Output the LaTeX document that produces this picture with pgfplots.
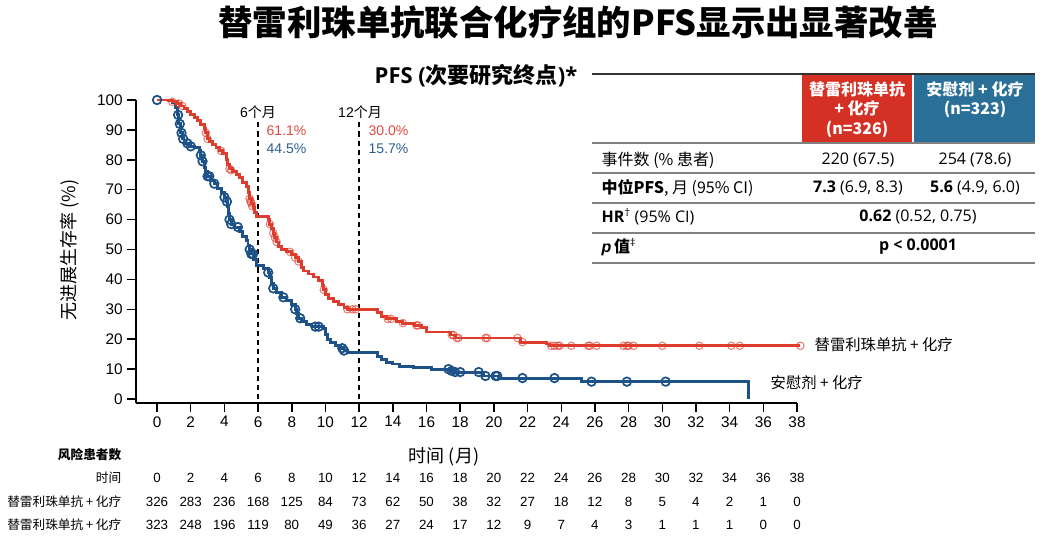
\documentclass[border=0pt]{standalone}
\usepackage{pgfplots}
\pgfplotsset{compat=1.18}
\usepackage{fontspec}
\setmainfont{Liberation Sans}
\newfontfamily\cjk{Noto Sans CJK SC}
\newfontfamily\tf{Open Sans}
\definecolor{redc}{HTML}{DE3C2D}
\definecolor{bluec}{HTML}{1C5287}
\definecolor{redbox}{HTML}{D43024}
\definecolor{bluebox}{HTML}{2A6F97}
\definecolor{redt}{HTML}{E04A3C}
\definecolor{bluet}{HTML}{2E5E91}
\begin{document}
\begin{tikzpicture}
\begin{axis}[
  at={(102pt,-302.25pt)}, anchor=south west,
  scale only axis, width=495.75pt, height=227.25pt,
  xmin=-1.25, xmax=38, ymin=-1.34, ymax=100,
  axis x line*=bottom, axis y line*=left,
  xtick={0,2,...,38}, ytick={0,10,...,100},
  tick align=outside, major tick length=6.5pt,
  tick style={line width=1.1pt, black},
  axis line style={line width=1.1pt, black},
  tick label style={font=\fontsize{11.5}{12}\selectfont},
  /pgf/number format/assume math mode=true,
  clip=false,
]
\draw[line width=1.3pt, dash pattern=on 3.8pt off 3pt] (axis cs:6,92.5) -- (axis cs:6,-1.34);
\draw[line width=1.3pt, dash pattern=on 3.8pt off 3pt] (axis cs:12,92.5) -- (axis cs:12,-1.34);
\addplot[const plot, bluec, line width=2.2pt] table {
t s
0 100
0.9 99
1.1 97.5
1.2 95
1.3 92
1.4 89
1.5 87
1.6 85.5
1.9 84.5
2.2 84
2.5 83
2.6 81.5
2.7 79.5
2.8 77.5
2.9 76
3.0 74.5
3.2 73
3.4 72
3.6 70.5
3.8 69
4.0 67.5
4.1 66
4.2 64.5
4.25 62
4.3 60
4.4 58.5
4.6 57.5
4.9 56
5.1 54.5
5.3 53
5.4 51.5
5.5 50
5.6 48.5
5.75 46.5
5.9 44.5
6.3 43.5
6.6 42.3
6.7 40.5
6.8 38.5
6.9 37
7.1 35.5
7.4 34
7.7 33
8.0 31.5
8.2 30
8.3 28.5
8.4 27
8.6 26
8.9 25
9.2 24.2
9.9 23.6
10.0 21.5
10.1 20
10.3 19
10.6 18
10.9 17
11.1 16.2
11.3 15.7
13.1 14.2
13.3 13.2
13.6 12.3
14.0 11.7
14.4 11
15.2 10.5
16.3 10
17.4 9.4
17.6 9.0
19.4 7.7
20.3 7.0
25.2 5.8
35.1 5.8
35.1 0
};
\addplot[const plot, redc, line width=2.2pt] table {
t s
0 100
0.7 99.7
0.9 99.4
1.2 98.8
1.4 98
1.6 97.3
1.8 96.3
2.0 95
2.2 94
2.4 93
2.6 91.8
2.8 90.5
2.9 89
3.0 87
3.1 86
3.3 85
3.5 84
3.7 83
3.9 82
4.1 80
4.2 78.5
4.3 77
4.5 76
4.7 75
4.9 74
5.1 72.5
5.3 71
5.45 69
5.5 67
5.6 65.5
5.7 64
5.8 62.5
5.9 61.1
6.6 60
6.7 58.5
6.8 57
6.9 55.5
7.0 54
7.1 52.5
7.2 51
7.4 50
7.7 49.2
8.0 48.3
8.2 47.3
8.4 46
8.6 44
8.7 42.8
9.0 41.8
9.3 40.8
9.6 39.5
9.8 38
9.9 36.5
10.0 35
10.2 33.5
10.5 32.5
10.8 31.5
11.1 30.5
11.3 30.0
13.1 28.8
13.3 27.5
13.6 26.8
14.2 26
14.6 25.4
15.3 24.6
15.7 24
16.0 22.4
17.4 21.4
17.7 20.4
21.6 19.0
23.1 18.4
23.3 17.8
38.2 17.8
};
\addplot[only marks, mark=o, mark size=3.2pt, bluec, mark options={line width=1.3pt}] table {
t s
0 100
1.25 95
1.35 92
1.45 89
1.55 87
1.8 85.5
2.0 84.5
2.6 81.5
2.7 79.5
3.0 74.5
3.1 74.5
3.4 72
4.0 67.5
4.15 66
4.3 60
4.4 58.5
4.8 57.5
5.5 50
5.6 48.5
5.7 48.5
6.6 42.3
6.9 37
7.5 34
8.2 30
8.5 27
9.4 24.2
9.6 24.2
11.0 17
11.1 16.2
17.3 10
17.5 9.4
17.7 9.0
18.0 9.0
19.1 9.0
19.5 7.7
20.1 7.7
20.2 7.7
21.7 7.0
23.6 7.0
25.8 5.8
27.9 5.8
30.2 5.8
};
\addplot[only marks, mark=o, mark size=2.8pt, redc, mark options={line width=0.8pt, draw opacity=0.65}] table {
t s
0.9 99.4
1.3 98.8
1.5 98
2.9 89
3.0 87
3.8 83
4.3 77
4.4 76.5
5.5 67
5.55 66
5.6 65.5
5.65 64.5
6.7 58.5
6.9 55.5
7.0 54
7.1 52.5
7.9 49.2
8.2 47.3
8.4 46
9.9 36.5
11.3 30.0
11.6 30.0
11.8 30.0
13.7 26.8
13.9 26.8
14.6 25.4
15.4 24.6
15.5 24.6
17.5 21.4
17.6 21.4
17.8 20.4
17.9 20.4
19.5 20.4
19.6 20.4
21.4 20.4
21.7 19.0
23.4 17.8
23.6 17.8
23.8 17.8
23.9 17.8
24.6 17.8
25.6 17.8
25.7 17.8
26.1 17.8
27.7 17.8
27.9 17.8
28.0 17.8
28.3 17.8
30.0 17.8
32.2 17.8
34.1 17.8
34.6 17.8
38.2 17.8
};
\end{axis}
\begin{scope}[x=0.75pt,y=-0.75pt]
\path[use as bounding box] (0,0) rectangle (1049,549);
% title
\node[font=\cjk\bfseries\fontsize{25.8}{28}\selectfont] at (578,22) {替雷利珠单抗联合化疗组的PFS显示出显著改善};
% subheading
\node[anchor=west, font=\bfseries\fontsize{16.5}{18}\selectfont] at (370,76) {{\tf PFS (}{\cjk 次要研究终点}{\tf )*}};
% table
\fill[redbox] (802,75) rectangle (912,142);
\fill[bluebox] (914,75) rectangle (1035,142);
\draw[line width=1.8pt, black!80] (592,74) -- (1035,74);
\foreach \yy in {143,173,203,233,263} \draw[line width=1.5pt, black!50] (592,\yy) -- (1035,\yy);
\node[align=center, text=white, font=\cjk\bfseries\fontsize{12}{14.6}\selectfont] at (857,109.5) {替雷利珠单抗\\+ 化疗\\(n=326)};
\node[align=center, text=white, font=\cjk\bfseries\fontsize{12}{14.6}\selectfont] at (975,100) {安慰剂 + 化疗\\(n=323)};
\node[anchor=west, font=\cjk\fontsize{12}{14}\selectfont] at (597,160) {事件数 (\% 患者)};
\node[anchor=west, font=\cjk\fontsize{12}{14}\selectfont] at (597,188) {{\bfseries 中位PFS}, 月 (95\% CI)};
\node[anchor=west, font=\tf\fontsize{12}{14}\selectfont] at (597,217) {{\bfseries HR}\textsuperscript{†} (95\% CI)};
\node[anchor=west, font=\fontsize{12}{14}\selectfont] at (597,247) {{\bfseries\itshape p}\,{\cjk\bfseries 值}\textsuperscript{\tf ‡}};
\node[font=\tf\fontsize{12}{14}\selectfont] at (858,160) {220 (67.5)};
\node[font=\tf\fontsize{12}{14}\selectfont] at (975,160) {254 (78.6)};
\node[font=\tf\fontsize{12}{14}\selectfont] at (858,188) {{\bfseries 7.3} (6.9, 8.3)};
\node[font=\tf\fontsize{12}{14}\selectfont] at (975,188) {{\bfseries 5.6} (4.9, 6.0)};
\node[font=\tf\fontsize{12}{14}\selectfont] at (918,217) {{\bfseries 0.62} (0.52, 0.75)};
\node[font=\tf\bfseries\fontsize{12}{14}\selectfont] at (918,247) {p < 0.0001};
% plot annotations
\node[font=\fontsize{10.5}{12}\selectfont] at (258,112) {6{\cjk 个月}};
\node[font=\fontsize{10.5}{12}\selectfont] at (360,112) {12{\cjk 个月}};
\node[anchor=west, text=redt, font=\fontsize{10.5}{12}\selectfont] at (262,131) {61.1\%};
\node[anchor=west, text=bluet, font=\fontsize{10.5}{12}\selectfont] at (262,149) {44.5\%};
\node[anchor=west, text=redt, font=\fontsize{10.5}{12}\selectfont] at (364,131) {30.0\%};
\node[anchor=west, text=bluet, font=\fontsize{10.5}{12}\selectfont] at (364,149) {15.7\%};
\node[anchor=west, font=\cjk\fontsize{11.5}{13}\selectfont] at (810,345) {替雷利珠单抗 + 化疗};
\node[anchor=west, font=\cjk\fontsize{11.5}{13}\selectfont] at (766,383) {安慰剂 + 化疗};
% axis labels
\node[rotate=90, font=\cjk\fontsize{13.5}{15}\selectfont] at (70,250) {无进展生存率 (\%)};
\node[font=\cjk\fontsize{13.5}{15}\selectfont] at (444,457) {时间 (月)};
% risk table
\node[anchor=east, font=\cjk\bfseries\fontsize{9.5}{11}\selectfont] at (126,455) {风险患者数};
\node[anchor=east, font=\cjk\fontsize{9.5}{12}\selectfont] at (126,478) {时间};
\node[anchor=east, font=\cjk\fontsize{9.5}{12}\selectfont] at (126,502) {替雷利珠单抗 + 化疗};
\node[anchor=east, font=\cjk\fontsize{9.5}{12}\selectfont] at (126,525) {替雷利珠单抗 + 化疗};
\foreach \t/\a/\b in {0/326/323,2/283/248,4/236/196,6/168/119,8/125/80,10/84/49,12/73/36,14/62/27,16/50/24,18/38/17,20/32/12,22/27/9,24/18/7,26/12/4,28/8/3,30/5/1,32/4/1,34/2/1,36/1/0,38/0/0} {
  \node[font=\fontsize{10}{12}\selectfont] at ({157+16.842*\t},478) {\t};
  \node[font=\fontsize{10}{12}\selectfont] at ({157+16.842*\t},502) {\a};
  \node[font=\fontsize{10}{12}\selectfont] at ({157+16.842*\t},525) {\b};
}
\end{scope}
\end{tikzpicture}
\end{document}
